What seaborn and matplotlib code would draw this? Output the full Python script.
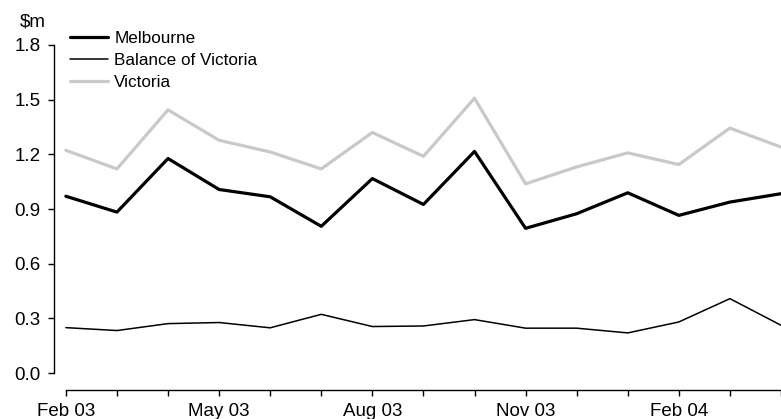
import matplotlib
matplotlib.use("Agg")
import matplotlib.pyplot as plt
import seaborn as sns
import pandas as pd

# Monthly values, $m
months = ["Feb 03", "Mar 03", "Apr 03", "May 03", "Jun 03", "Jul 03", "Aug 03",
          "Sep 03", "Oct 03", "Nov 03", "Dec 03", "Jan 04", "Feb 04", "Mar 04", "Apr 04"]
melbourne = [0.970, 0.883, 1.177, 1.007, 0.967, 0.805, 1.067, 0.925, 1.216,
             0.794, 0.874, 0.989, 0.865, 0.938, 0.984]
balance_of_victoria = [0.249, 0.233, 0.271, 0.277, 0.248, 0.322, 0.255, 0.258, 0.293,
                       0.246, 0.246, 0.220, 0.280, 0.408, 0.262]
victoria = [1.222, 1.120, 1.444, 1.277, 1.213, 1.120, 1.320, 1.189, 1.508,
            1.038, 1.131, 1.208, 1.144, 1.344, 1.240]
labelled_months = ["Feb 03", "May 03", "Aug 03", "Nov 03", "Feb 04"]
y_ticks = [0.0, 0.3, 0.6, 0.9, 1.2, 1.5, 1.8]

sns.set_theme(style="white")
plt.rcParams["font.family"] = ["Liberation Sans", "DejaVu Sans"]
plt.rcParams["text.color"] = "black"
plt.rcParams["xtick.color"] = "black"
plt.rcParams["ytick.color"] = "black"

df = pd.DataFrame({
    "pos": range(len(months)),
    "Melbourne": melbourne,
    "Balance of Victoria": balance_of_victoria,
    "Victoria": victoria,
})

W, H = 781, 419
fig = plt.figure(figsize=(W / 100, H / 100), dpi=100)
left_px, right_px, top_px, bottom_px = 54, 781, 45, 373
ax = fig.add_axes([left_px / W, (H - bottom_px) / H,
                   (right_px - left_px) / W, (bottom_px - top_px) / H])

styles = {
    "Melbourne": dict(color="black", linewidth=2.3),
    "Balance of Victoria": dict(color="black", linewidth=1.1),
    "Victoria": dict(color="#c9c9c9", linewidth=2.3),
}
for name in ["Melbourne", "Balance of Victoria", "Victoria"]:
    sns.lineplot(data=df, x="pos", y=name, ax=ax, label=name, **styles[name])

step = 51.7
first_px = 66
ax.set_xlim((left_px - first_px) / step, (right_px - first_px) / step)
ax.set_ylim(0, 1.8)

ax.set_yticks(y_ticks)
ax.set_yticklabels([f"{v:.1f}" for v in y_ticks])
ax.set_xticks(range(len(months)))
ax.set_xticklabels([m if m in labelled_months else "" for m in months])
ax.set_xlabel("")
ax.set_ylabel("")

for s in ["top", "right"]:
    ax.spines[s].set_visible(False)
ax.spines["left"].set_bounds(0, 1.8)
ax.spines["left"].set_color("black")
ax.spines["left"].set_linewidth(1.0)
ax.spines["bottom"].set_position(("outward", 12))
ax.spines["bottom"].set_bounds(0, ax.get_xlim()[1])
ax.spines["bottom"].set_color("black")
ax.spines["bottom"].set_linewidth(1.0)

ax.tick_params(axis="y", direction="out", length=4.5, width=1.0, color="black",
               labelcolor="black", labelsize=13.5, pad=5, left=True)
ax.tick_params(axis="x", direction="out", length=4, width=1.0, color="black",
               labelcolor="black", labelsize=13.5, pad=5.5, bottom=True)
ax.grid(False)

fig.text(33 / W, 1 - 22 / H, r"\$m", ha="center", va="center", fontsize=13.5,
         color="black")

leg = ax.legend(loc="upper left", bbox_to_anchor=(70 / W, 1 - 31 / H),
                bbox_transform=fig.transFigure, frameon=False, fontsize=12.3,
                borderpad=0, borderaxespad=0, handlelength=2.2,
                handletextpad=0.4, labelspacing=0.42)
for t in leg.get_texts():
    t.set_color("black")

fig.savefig("out.png", dpi=100)
